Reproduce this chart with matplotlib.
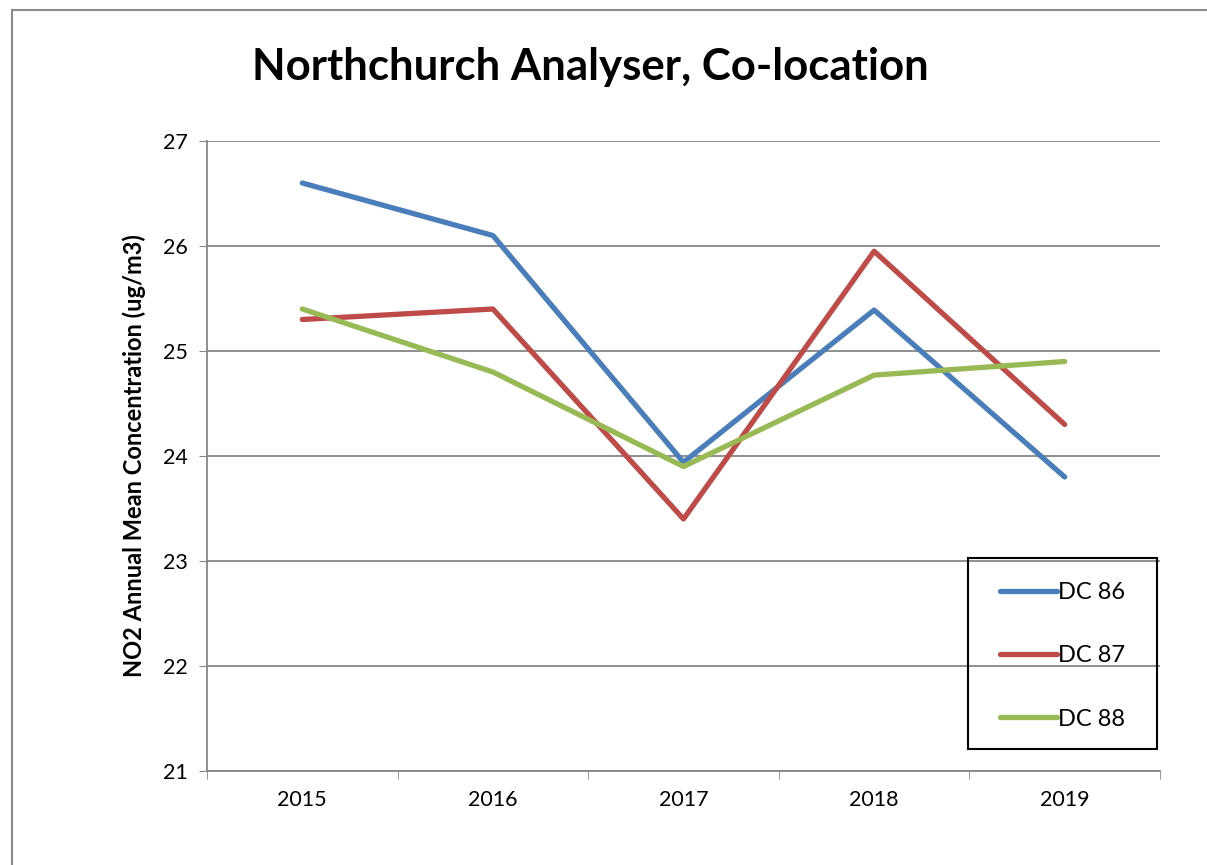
import matplotlib.pyplot as plt
from matplotlib.patches import Rectangle

years = ['2015', '2016', '2017', '2018', '2019']
dc86 = [26.6, 26.1, 23.94, 25.39, 23.8]
dc87 = [25.3, 25.4, 23.4, 25.95, 24.3]
dc88 = [25.4, 24.8, 23.9, 24.77, 24.9]

series = [('DC 86', dc86, '#4A7EBB'),
          ('DC 87', dc87, '#BE4B48'),
          ('DC 88', dc88, '#98B954')]

plt.rcParams['font.family'] = ['Lato', 'DejaVu Sans']

W, H = 1207, 865
fig = plt.figure(figsize=(W / 100, H / 100), dpi=100)
# outer chart frame (Excel chart area)
fig.patches.append(Rectangle((12 / W, -0.1), 1.2, 1 - 10 / H + 0.1,
                             transform=fig.transFigure, fill=False,
                             edgecolor='#8c8c8c', linewidth=1.5))

ax = fig.add_axes([207 / W, 1 - 771 / H, (1160 - 207) / W, (771 - 141) / H])

x = list(range(len(years)))
for name, vals, col in series:
    ax.plot(x, vals, color=col, linewidth=3.8, label=name, solid_capstyle='round')

ax.set_xlim(-0.5, len(years) - 0.5)
ax.set_ylim(21, 27)
ax.set_yticks(range(21, 28))
ax.set_xticks(x)
ax.set_xticklabels(years)
ax.set_xticks([i - 0.5 for i in range(len(years) + 1)], minor=True)
ax.tick_params(axis='x', which='major', length=0, pad=14, labelsize=15.5)
ax.tick_params(axis='x', which='minor', length=6, color='#868686', direction='out')
ax.tick_params(axis='y', length=6, color='#868686', direction='out', pad=8, labelsize=15.5)

ax.grid(axis='y', color='#868686', linewidth=1.3)
ax.set_axisbelow(True)
for s in ['top', 'right']:
    ax.spines[s].set_visible(False)
for s in ['left', 'bottom']:
    ax.spines[s].set_color('#868686')
    ax.spines[s].set_linewidth(1.3)

ax.set_ylabel('NO2 Annual Mean Concentration (ug/m3)', fontsize=17,
              fontweight='bold', labelpad=12)

fig.text(590 / W, 1 - 67 / H, 'Northchurch Analyser, Co-location',
         fontsize=31.5, fontweight='bold', ha='center', va='center')

# legend box drawn separately so the entries can sit where Excel puts them
fig.patches.append(Rectangle((968 / W, 1 - 749 / H), 189 / W, 191 / H,
                             transform=fig.transFigure, fill=False,
                             edgecolor='black', linewidth=1.5, zorder=5))
ax.legend(loc='upper left', bbox_to_anchor=(1000 / W, 1 - 582 / H),
          bbox_transform=fig.transFigure, frameon=False,
          fontsize=17, handlelength=2.4, handletextpad=0.05, labelspacing=1.79,
          borderpad=0, borderaxespad=0)

fig.savefig('out.png', dpi=100)
